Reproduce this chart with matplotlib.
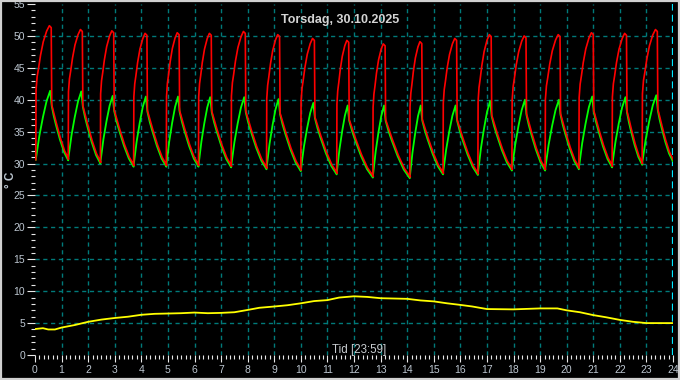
import matplotlib
matplotlib.use("Agg")
import matplotlib.pyplot as plt
from matplotlib.patches import Rectangle
from matplotlib.ticker import MultipleLocator

# ---------------- data ----------------
title = "Torsdag, 30.10.2025"
x_label = "Tid [23:59]"
y_label = "° C"

# per heating cycle: start time (h), peak time (h)
cycle_start = [0.03, 1.25, 2.46, 3.71, 4.94, 6.15, 7.38, 8.71, 10.0, 11.35,
               12.71, 14.1, 15.35, 16.66, 17.94, 19.19, 20.46, 21.71, 22.84]
cycle_peak = [0.54, 1.71, 2.89, 4.14, 5.35, 6.56, 7.84, 9.13, 10.44, 11.73,
              13.1, 14.48, 15.79, 17.09, 18.4, 19.68, 20.93, 22.18, 23.34]
# minimum at cycle start (both curves)
cycle_min = [30.6, 30.7, 30.2, 29.7, 29.7, 29.7, 29.6, 29.3, 29.0, 28.5,
             28.0, 27.9, 28.5, 28.4, 29.1, 29.1, 29.3, 29.6, 30.0]
red_peak = [51.6, 51.0, 50.8, 50.4, 50.5, 50.4, 50.7, 50.2, 49.6, 49.3,
            48.75, 49.1, 49.6, 50.2, 50.0, 50.2, 50.5, 50.4, 51.0]
green_peak = [41.4, 41.3, 40.6, 40.5, 40.5, 40.4, 40.4, 40.1, 39.5, 39.1,
              39.1, 39.1, 39.1, 39.8, 40.0, 40.0, 40.5, 40.4, 40.7]
end_time = 23.99
end_value = 30.6

# normalised shape of a cycle, read from the first cycles (time frac, value frac)
red_rise_t = [0.0, 0.02, 0.1, 0.2, 0.35, 0.55, 0.8, 1.0]
red_rise_v = [0.0, 0.52, 0.62, 0.68, 0.78, 0.88, 0.96, 1.0]
green_rise_t = [0.0, 0.25, 0.5, 0.75, 1.0]
green_rise_v = [0.0, 0.35, 0.62, 0.85, 1.0]
decay_t = [0.0, 0.12, 0.25, 0.5, 0.75, 1.0]
decay_v = [0.0, 0.18, 0.34, 0.62, 0.85, 1.0]
drop_delay = 0.09
drop_below_green = 2.2

# outdoor temperature (yellow)
out_t = [0, 0.3, 0.5, 0.75, 1, 1.5, 2, 2.5, 3, 3.5, 4, 4.5, 5, 5.5, 6, 6.5, 7, 7.5,
         8, 8.44, 9, 9.5, 10, 10.5, 11, 11.44, 12, 12.5, 13, 13.5, 14, 14.5, 15,
         15.5, 16, 16.45, 17, 18, 19, 19.65, 20, 20.5, 21, 21.5, 22, 22.5, 23, 23.98]
out_v = [4.07, 4.2, 4.0, 4.0, 4.3, 4.7, 5.2, 5.55, 5.8, 6.0, 6.3, 6.45, 6.5, 6.55,
         6.65, 6.55, 6.6, 6.7, 7.06, 7.4, 7.6, 7.8, 8.1, 8.45, 8.6, 9.0, 9.2, 9.1,
         8.9, 8.85, 8.8, 8.55, 8.4, 8.1, 7.85, 7.6, 7.2, 7.15, 7.3, 7.3, 7.0, 6.7,
         6.25, 5.9, 5.5, 5.2, 5.0, 5.0]

x_ticks = list(range(0, 25))
y_ticks = list(range(0, 56, 5))

# ---------------- build the polylines ----------------
red_x, red_y, grn_x, grn_y = [], [], [], []
n = len(cycle_start)
for i in range(n):
    t0, tp, v0 = cycle_start[i], cycle_peak[i], cycle_min[i]
    rp, gp = red_peak[i], green_peak[i]
    t_next = cycle_start[i + 1] if i + 1 < n else end_time
    v_next = cycle_min[i + 1] if i + 1 < n else end_value
    for ft, fv in zip(red_rise_t, red_rise_v):
        red_x.append(t0 + ft * (tp - t0)); red_y.append(v0 + fv * (rp - v0))
    tg = tp + 0.03
    for ft, fv in zip(green_rise_t, green_rise_v):
        grn_x.append(t0 + ft * (tg - t0)); grn_y.append(v0 + fv * (gp - v0))
    td = tp + drop_delay
    vd = gp - drop_below_green
    red_x += [tp + 0.07, td]; red_y += [rp - 0.3, vd]
    for ft, fv in zip(decay_t, decay_v):
        x = td + ft * (t_next - td)
        v = vd + fv * (v_next - vd)
        if ft > 0:
            red_x.append(x + 0.02); red_y.append(v)
        grn_x.append(x); grn_y.append(v - 0.2)

# ---------------- plotting ----------------
plt.rcParams['font.family'] = ['Liberation Sans', 'DejaVu Sans']
plt.rcParams['lines.scale_dashes'] = False

fig = plt.figure(figsize=(6.8, 3.8), dpi=100, facecolor='black')
ax = fig.add_axes([35 / 680, 25 / 380, 638 / 680, 351 / 380], facecolor='black')

label_col = '#bcc6d0'
grid_col = '#007a7a'

for xv in x_ticks[1:-1]:
    ax.axvline(xv, color=grid_col, lw=1.0, ls=(0, (3.0, 2.6)), zorder=1)
for yv in y_ticks[1:-1]:
    ax.axhline(yv, color=grid_col, lw=1.0, ls=(0, (3.0, 2.6)), zorder=1)
ax.axvline(24, color='#00e8ff', lw=1.6, ls=(0, (5, 3)), zorder=2)

ax.plot(out_t, out_v, color='#ffff00', lw=1.3, zorder=3)
ax.plot(grn_x, grn_y, color='#00ff00', lw=1.3, zorder=4)
ax.plot(red_x, red_y, color='#ff0000', lw=1.2, zorder=5)

ax.set_xlim(0, 24)
ax.set_ylim(0, 55)
ax.set_xticks(x_ticks)
ax.set_yticks(y_ticks)
ax.xaxis.set_minor_locator(MultipleLocator(1 / 6))
ax.yaxis.set_minor_locator(MultipleLocator(1))
for s in ax.spines.values():
    s.set_visible(False)
ax.tick_params(axis='both', which='major', colors='#e8e8e8', width=0.8,
               labelcolor=label_col, labelsize=7.5)
ax.tick_params(axis='y', which='major', length=6, pad=1)
ax.tick_params(axis='x', which='major', length=5, pad=2)
ax.tick_params(axis='both', which='minor', colors='#e8e8e8', width=0.8, length=2.6)

ax.text(12.2, 0.35, x_label, color='#c8ccd0', fontsize=8.3, ha='center', va='baseline')
fig.text(0.5, 1 - 22.7 / 380, title, color='#d4d4d4', fontsize=9,
         fontweight='bold', ha='center', va='baseline')
fig.text(11 / 680, 1 - 180 / 380, y_label, color=label_col, fontsize=8.5,
         fontweight='bold', rotation=90, ha='center', va='center')

fig.patches.append(Rectangle((0.001, 0.002), 0.997, 0.995, transform=fig.transFigure,
                             fill=False, edgecolor='#d0d0d0', lw=1.6))

fig.savefig('out.png', dpi=100, facecolor='black')
